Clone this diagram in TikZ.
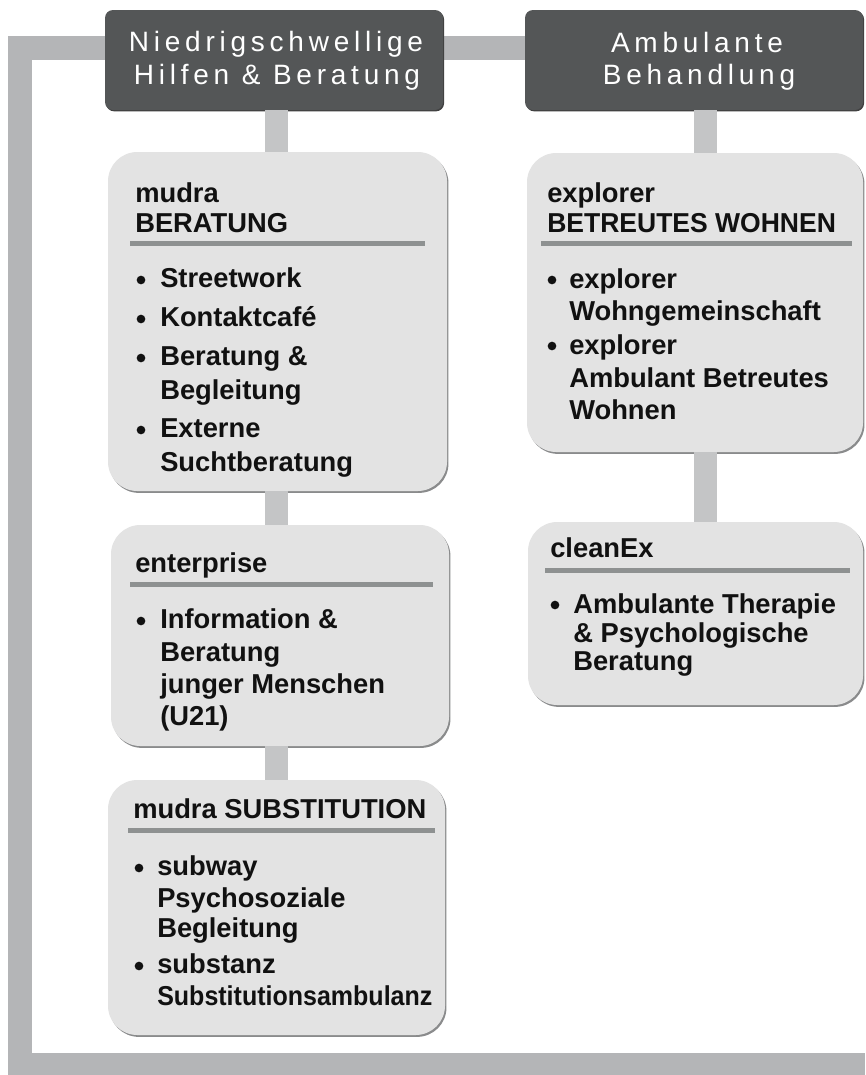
\documentclass[tikz,border=0pt]{standalone}
\usepackage{fontspec}
\setmainfont{Liberation Sans}
\newfontfamily\hfont[LetterSpace=17]{Liberation Sans}
\usetikzlibrary{fit,shadows}
\definecolor{hdr}{HTML}{545657}
\definecolor{frm}{HTML}{B4B5B7}
\definecolor{cn}{HTML}{C4C5C6}
\definecolor{bx}{HTML}{E3E3E3}
\definecolor{sepc}{HTML}{8E9191}
\definecolor{txt}{HTML}{111111}
\definecolor{shd}{HTML}{8A8B8C}
\begin{document}
\begin{tikzpicture}[x=0.75pt,y=-0.75pt,
  frame/.style={draw=frm, line width=18pt, line join=miter, line cap=butt},
  conn/.style={draw=cn, line width=17.25pt, line cap=butt},
  hdrbox/.style={fill=hdr, rounded corners=6pt, inner sep=0pt,
    drop shadow={shadow xshift=0.8pt, shadow yshift=-1pt, fill=black!75, opacity=1}},
  card/.style={fill=bx, rounded corners=22pt, inner sep=0pt,
    drop shadow={shadow xshift=1.1pt, shadow yshift=-1.4pt, fill=shd, opacity=1}},
  htext/.style={anchor=base, inner sep=0pt, text=white,
    font=\hfont\fontsize{21pt}{24pt}\selectfont},
  tline/.style={anchor=base west, inner sep=0pt, text=txt,
    font=\bfseries\fontsize{20.5pt}{24pt}\selectfont},
  bul/.style={circle, fill=txt, inner sep=0pt, minimum size=6.5pt},
  sepline/.style={draw=sepc, line width=3.75pt}
]
\useasboundingbox (0,0) rectangle (865,1075);
\fill[white] (0,0) rectangle (865,1075);

% connector x positions
\coordinate (cl) at (276.5,0);
\coordinate (cr) at (705,0);
\coordinate (ty) at (0,48);
\coordinate (bl) at (20,1065);
\coordinate (br) at (865,1065);

% header box corners
\path (105,10) coordinate (h1nw) (443,110) coordinate (h1se)
      (525,10) coordinate (h2nw) (863,110) coordinate (h2se);

% frame
\draw[frame] (h1nw |- ty) -| (bl) -- (br);
\draw[frame] (h1se |- ty) -- (h2nw |- ty);

% headers
\node[hdrbox, fit=(h1nw)(h1se)] (h1) {};
\node[hdrbox, fit=(h2nw)(h2se)] (h2) {};
\node[htext] (h1a) at (276,51) {Niedrigschwellige};
\node[htext] (h1b) at (277,84) {Hilfen \& Beratung};
\node[htext] (h2a) at (697,52) {Ambulante};
\node[htext] (h2b) at (699,84) {Behandlung};

% cards
\node[card, fit={(108,152) (447,491)}] (b1) {};
\node[card, fit={(111,525) (449,746)}] (b2) {};
\node[card, fit={(108,780) (445,1035)}] (b3) {};
\node[card, fit={(527,153) (863,452)}] (bA) {};
\node[card, fit={(528,522) (863,705)}] (bB) {};

% connectors
\draw[conn] (h1.south -| cl) -- (b1.north -| cl);
\draw[conn] (b1.south -| cl) -- (b2.north -| cl);
\draw[conn] (b2.south -| cl) -- (b3.north -| cl);
\draw[conn] (h2.south -| cr) -- (bA.north -| cr);
\draw[conn] (bA.south -| cr) -- (bB.north -| cr);

% box 1
\node[tline] (b1t1) at (135,202) {mudra};
\node[tline] (b1t2) at (135,232) {BERATUNG};
\draw[sepline] (130,243) -- (425,243);
\foreach \y/\t [count=\i] in {287/Streetwork, 326/Kontaktcafé, 365/Beratung \&, 399/Begleitung, 437/Externe, 471/Suchtberatung}
  \node[tline] (b1i\i) at (160,\y) {\t};
\foreach \y [count=\i] in {280,319,358,430}
  \node[bul] (b1u\i) at (141,\y) {};

% box 2
\node[tline] (b2t1) at (135,572) {enterprise};
\draw[sepline] (130,584) -- (433,584);
\foreach \y/\t [count=\i] in {628/Information \&, 661/Beratung, 693/junger Menschen, 725/(U21)}
  \node[tline] (b2i\i) at (160,\y) {\t};
\node[bul] (b2u1) at (141,621) {};

% box 3
\node[tline] (b3t1) at (133,818) {mudra SUBSTITUTION};
\draw[sepline] (128,830) -- (435,830);
\foreach \y/\t [count=\i] in {875/subway, 907/Psychosoziale, 937/Begleitung, 973/substanz}
  \node[tline] (b3i\i) at (157,\y) {\t};
\node[tline] (b3i5) at (157,1005) {\scalebox{0.915}[1]{Substitutionsambulanz}};
\node[bul] (b3u1) at (139,868) {};
\node[bul] (b3u2) at (139,966) {};

% box A
\node[tline] (bAt1) at (547,202) {explorer};
\node[tline] (bAt2) at (547,232) {\scalebox{0.97}[1]{BETREUTES WOHNEN}};
\draw[sepline] (541,243) -- (852,243);
\foreach \y/\t [count=\i] in {288/explorer, 320/Wohngemeinschaft, 354/explorer, 387/Ambulant Betreutes, 419/Wohnen}
  \node[tline] (bAi\i) at (569,\y) {\t};
\node[bul] (bAu1) at (552,280) {};
\node[bul] (bAu2) at (552,346) {};

% box B
\node[tline] (bBt1) at (550,557) {cleanEx};
\draw[sepline] (545,570) -- (850,570);
\foreach \y/\t [count=\i] in {613/Ambulante Therapie, 642/\& Psychologische, 670/Beratung}
  \node[tline] (bBi\i) at (573,\y) {\t};
\node[bul] (bBu1) at (555,605) {};
\end{tikzpicture}
\end{document}
